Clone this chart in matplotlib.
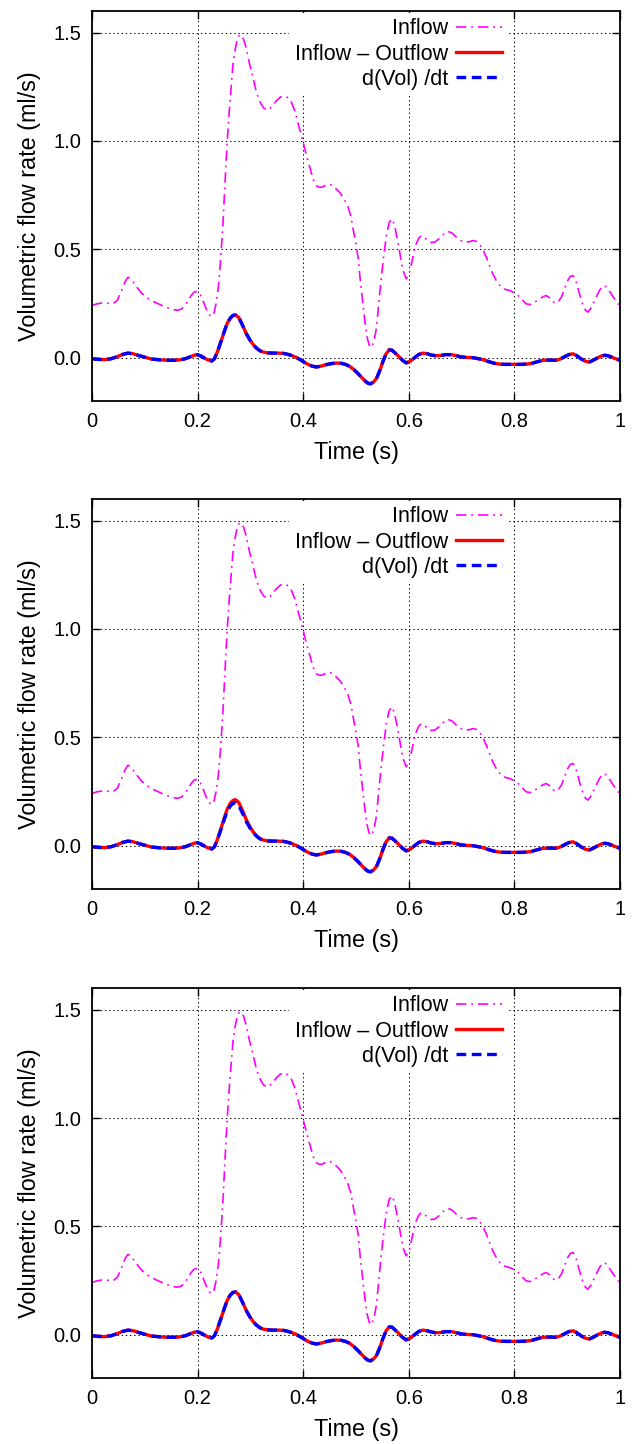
import matplotlib
matplotlib.use("Agg")
import matplotlib.pyplot as plt

plt.rcParams['font.family'] = ['Liberation Sans', 'DejaVu Sans']
plt.rcParams['lines.scale_dashes'] = False

# ---- data ----
t_in = [0.0, 0.009, 0.018, 0.03, 0.04, 0.048, 0.056, 0.063, 0.068, 0.074, 0.082, 0.093,
        0.105, 0.119, 0.136, 0.153, 0.162, 0.169, 0.176, 0.182, 0.188, 0.193, 0.199,
        0.204, 0.21, 0.216, 0.222, 0.227, 0.231, 0.235, 0.239, 0.242, 0.245, 0.248,
        0.251, 0.254, 0.257, 0.26, 0.264, 0.267, 0.271, 0.275, 0.279, 0.283, 0.287,
        0.292, 0.298, 0.305, 0.311, 0.317, 0.325, 0.334, 0.341, 0.349, 0.357, 0.365,
        0.372, 0.378, 0.384, 0.39, 0.395, 0.4, 0.406, 0.4125, 0.418, 0.422, 0.428,
        0.435, 0.442, 0.45, 0.459, 0.469, 0.477, 0.485, 0.49, 0.494, 0.499, 0.504,
        0.508, 0.513, 0.517, 0.521, 0.525, 0.529, 0.534, 0.539, 0.543, 0.548, 0.553,
        0.558, 0.563, 0.569, 0.574, 0.58, 0.585, 0.589, 0.595, 0.6, 0.605, 0.61,
        0.614, 0.619, 0.624, 0.63, 0.636, 0.642, 0.649, 0.658, 0.666, 0.674, 0.682,
        0.69, 0.698, 0.706, 0.714, 0.721, 0.728, 0.734, 0.74, 0.747, 0.753, 0.759,
        0.767, 0.775, 0.783, 0.791, 0.799, 0.807, 0.815, 0.822, 0.829, 0.835, 0.842,
        0.848, 0.854, 0.86, 0.868, 0.876, 0.883, 0.889, 0.895, 0.901, 0.906, 0.911,
        0.916, 0.92, 0.925, 0.93, 0.935, 0.939, 0.945, 0.952, 0.957, 0.961, 0.966,
        0.971, 0.977, 0.983, 0.99, 0.996, 1.0]
inflow = [0.241, 0.248, 0.252, 0.251, 0.249, 0.265, 0.31, 0.352, 0.371, 0.362, 0.335, 0.3,
          0.275, 0.256, 0.237, 0.222, 0.219, 0.224, 0.24, 0.264, 0.287, 0.302, 0.306,
          0.298, 0.265, 0.226, 0.198, 0.19, 0.205, 0.249, 0.32, 0.402, 0.505, 0.617,
          0.76, 0.909, 1.03, 1.139, 1.26, 1.354, 1.42, 1.469, 1.488, 1.489, 1.47,
          1.43, 1.36, 1.292, 1.23, 1.185, 1.152, 1.143, 1.16, 1.185, 1.203, 1.208,
          1.198, 1.177, 1.14, 1.085, 1.04, 0.993, 0.935, 0.878, 0.83, 0.801, 0.788,
          0.786, 0.795, 0.801, 0.787, 0.763, 0.735, 0.694, 0.655, 0.602, 0.535, 0.463,
          0.36, 0.249, 0.165, 0.095, 0.058, 0.046, 0.075, 0.141, 0.25, 0.371, 0.48,
          0.571, 0.625, 0.64, 0.6, 0.525, 0.455, 0.402, 0.364, 0.38, 0.433, 0.49,
          0.525, 0.552, 0.563, 0.555, 0.54, 0.532, 0.533, 0.55, 0.57, 0.583, 0.575,
          0.556, 0.541, 0.533, 0.535, 0.54, 0.537, 0.525, 0.5, 0.463, 0.425, 0.387,
          0.35, 0.325, 0.315, 0.31, 0.3, 0.287, 0.266, 0.249, 0.245, 0.249, 0.262,
          0.272, 0.281, 0.287, 0.274, 0.252, 0.258, 0.279, 0.318, 0.356, 0.375, 0.379,
          0.36, 0.325, 0.28, 0.241, 0.218, 0.21, 0.228, 0.264, 0.29, 0.31, 0.325,
          0.333, 0.318, 0.295, 0.27, 0.249, 0.245]

t_net = [0.0, 0.012, 0.024, 0.036, 0.046, 0.058, 0.068, 0.078, 0.087, 0.1, 0.112, 0.128,
         0.144, 0.158, 0.169, 0.178, 0.185, 0.192, 0.199, 0.206, 0.213, 0.22, 0.227,
         0.232, 0.238, 0.245, 0.251, 0.256, 0.262, 0.267, 0.272, 0.278, 0.286, 0.292,
         0.299, 0.306, 0.312, 0.318, 0.324, 0.333, 0.343, 0.353, 0.362, 0.37, 0.378,
         0.386, 0.394, 0.402, 0.409, 0.417, 0.425, 0.434, 0.444, 0.454, 0.463, 0.472,
         0.48, 0.488, 0.496, 0.504, 0.511, 0.517, 0.522, 0.527, 0.533, 0.539, 0.545,
         0.551, 0.557, 0.563, 0.568, 0.574, 0.58, 0.588, 0.595, 0.603, 0.611, 0.619,
         0.627, 0.635, 0.643, 0.651, 0.66, 0.67, 0.681, 0.69, 0.7, 0.71, 0.721, 0.73,
         0.74, 0.751, 0.762, 0.773, 0.784, 0.797, 0.81, 0.821, 0.832, 0.843, 0.854,
         0.866, 0.879, 0.887, 0.895, 0.903, 0.911, 0.918, 0.926, 0.934, 0.942, 0.95,
         0.958, 0.965, 0.971, 0.977, 0.983, 0.99, 0.996, 1.0]
in_minus_out = [-0.005, -0.008, -0.009, -0.005, 0.003, 0.015, 0.021, 0.018, 0.011, 0.002,
                -0.006, -0.01, -0.012, -0.012, -0.009, -0.004, 0.003, 0.01, 0.014, 0.008,
                -0.002, -0.011, -0.015, -0.005, 0.03, 0.08, 0.124, 0.158, 0.183, 0.195,
                0.197, 0.185, 0.145, 0.112, 0.082, 0.058, 0.043, 0.032, 0.026, 0.022,
                0.021, 0.021, 0.02, 0.016, 0.01, 0.002, -0.009, -0.021, -0.031, -0.039,
                -0.043, -0.039, -0.032, -0.027, -0.025, -0.026, -0.031, -0.04, -0.055,
                -0.074, -0.092, -0.107, -0.117, -0.121, -0.113, -0.095, -0.06, -0.018,
                0.018, 0.036, 0.035, 0.022, 0.008, -0.012, -0.024, -0.016, 0.0, 0.015,
                0.021, 0.018, 0.012, 0.009, 0.01, 0.014, 0.014, 0.009, 0.003, 0.001, 0.0,
                -0.004, -0.009, -0.018, -0.026, -0.03, -0.031, -0.031, -0.031, -0.03,
                -0.027, -0.019, -0.012, -0.011, -0.012, -0.006, 0.004, 0.014, 0.018,
                0.009, -0.005, -0.016, -0.02, -0.011, 0.0, 0.008, 0.011, 0.009, 0.004,
                -0.003, -0.009, -0.012]
in_minus_out_2 = [-0.005, -0.008, -0.009, -0.005, 0.003, 0.015, 0.021, 0.018, 0.011, 0.002,
                  -0.006, -0.01, -0.012, -0.012, -0.009, -0.004, 0.003, 0.01, 0.014, 0.008,
                  -0.002, -0.011, -0.015, -0.005, 0.032, 0.085, 0.132, 0.168, 0.196, 0.209,
                  0.212, 0.199, 0.157, 0.121, 0.088, 0.061, 0.044, 0.032, 0.026, 0.022,
                  0.021, 0.021, 0.02, 0.016, 0.01, 0.002, -0.009, -0.021, -0.031, -0.039,
                  -0.043, -0.039, -0.032, -0.027, -0.025, -0.026, -0.031, -0.04, -0.055,
                  -0.074, -0.092, -0.107, -0.117, -0.121, -0.113, -0.095, -0.06, -0.018,
                  0.018, 0.036, 0.035, 0.022, 0.008, -0.012, -0.024, -0.016, 0.0, 0.015,
                  0.021, 0.018, 0.012, 0.009, 0.01, 0.014, 0.014, 0.009, 0.003, 0.001, 0.0,
                  -0.004, -0.009, -0.018, -0.026, -0.03, -0.031, -0.031, -0.031, -0.03,
                  -0.027, -0.019, -0.012, -0.011, -0.012, -0.006, 0.004, 0.014, 0.018,
                  0.009, -0.005, -0.016, -0.02, -0.011, 0.0, 0.008, 0.011, 0.009, 0.004,
                  -0.003, -0.009, -0.012]
dvol_dt = in_minus_out

panels_red = [in_minus_out, in_minus_out_2, in_minus_out]

xticks = [0, 0.2, 0.4, 0.6, 0.8, 1]
xticklabels = ['0', '0.2', '0.4', '0.6', '0.8', '1']
yticks = [0.0, 0.5, 1.0, 1.5]
yticklabels = ['0.0', '0.5', '1.0', '1.5']

W, H = 633, 1444
fig = plt.figure(figsize=(W / 100, H / 100), dpi=100)

tops = [11, 499, 988]
height_px = 390
left_px, right_px = 92, 620

for k in range(3):
    top = tops[k]
    ax = fig.add_axes([left_px / W, 1 - (top + height_px) / H,
                       (right_px - left_px) / W, height_px / H])
    ax.plot(t_in, inflow, color='#ff00ff', lw=1.2, dashes=(7.5, 3.5, 1.3, 3.5),
            label='Inflow', solid_joinstyle='round', dash_joinstyle='round')
    ax.plot(t_net, panels_red[k], color='#ff0000', lw=2.4, label='Inflow – Outflow',
            solid_joinstyle='round')
    ax.plot(t_net, dvol_dt, color='#0000ff', lw=2.4, dashes=(7.0, 4.0),
            label='d(Vol) /dt', dash_joinstyle='round')
    ax.set_xlim(0, 1)
    ax.set_ylim(-0.2, 1.6)
    ax.set_xticks(xticks)
    ax.set_xticklabels(xticklabels)
    ax.set_yticks(yticks)
    ax.set_yticklabels(yticklabels)
    ax.grid(True, color='black', linestyle=(0, (1, 2)), linewidth=0.7)
    ax.tick_params(direction='in', top=True, right=True, length=6, width=1,
                   labelsize=14.5, pad=8)
    for s in ax.spines.values():
        s.set_linewidth(1.3)
    ax.set_xlabel('Time (s)', fontsize=16.8, labelpad=7)
    ax.set_ylabel('Volumetric flow rate (ml/s)', fontsize=16.8, labelpad=9)
    leg = ax.legend(loc='upper right', bbox_to_anchor=(0.786, 0.995), frameon=True,
                    markerfirst=False, fontsize=15.5, handlelength=2.1,
                    labelspacing=0.2, borderpad=0.25, handletextpad=0.4,
                    fancybox=False, borderaxespad=0.0)
    leg.get_frame().set_edgecolor('none')
    leg.get_frame().set_facecolor('white')
    leg.get_frame().set_alpha(1.0)
    leg._legend_box.align = 'right'

fig.savefig('out.png', dpi=100)
